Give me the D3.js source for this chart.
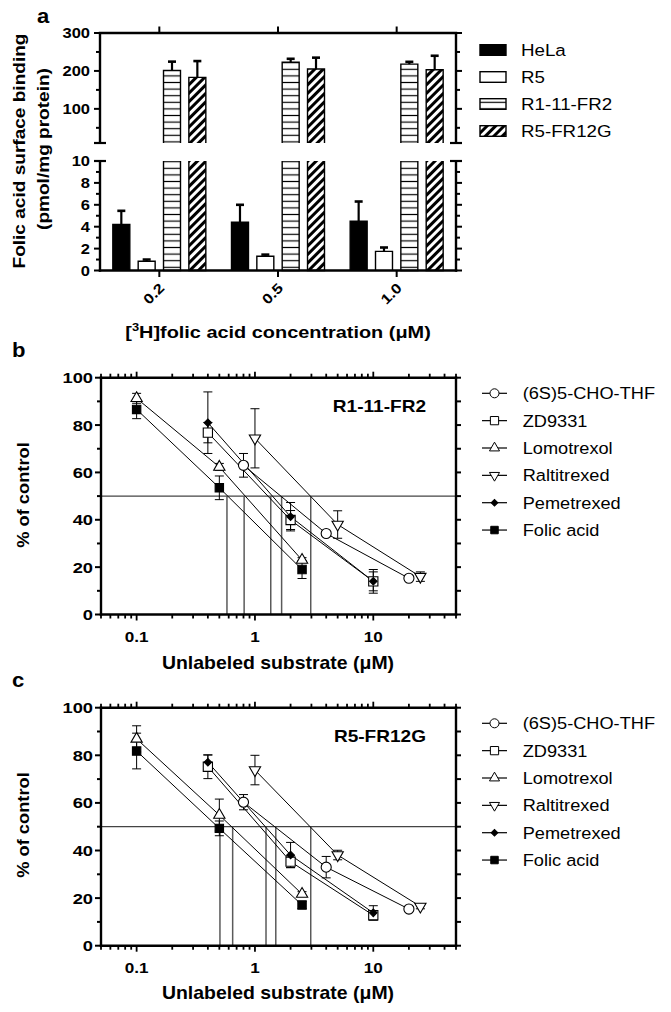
<!DOCTYPE html>
<html><head><meta charset="utf-8">
<script src="https://cdn.jsdelivr.net/npm/d3@7"></script>
<style>body{margin:0;background:#fff}</style>
</head><body>
<script>
// ---------- Panel a data ----------
const concCats = ["0.2", "0.5", "1.0"];
const cellLines = ["HeLa", "R5", "R1-11-FR2", "R5-FR12G"];
const helaMean = [4.2, 4.4, 4.5];
const helaErr = [1.25, 1.6, 1.8];
const r5Mean = [0.85, 1.3, 1.75];
const r5Err = [0.15, 0.15, 0.35];
const r111Mean = [201, 223, 218];
const r111Err = [23.5, 9, 6];
const r5fr12gMean = [183, 205, 203];
const r5fr12gErr = [43, 30, 37];
const aUpperTicks = [100, 200, 300];
const aUpperMinor = [50, 150, 250];
const aLowerTicks = [0, 2, 4, 6, 8, 10];
const aLowerMinor = [1, 3, 5, 7, 9];

// ---------- Panels b, c data ----------
const drugs = ["(6S)5-CHO-THF", "ZD9331", "Lomotrexol", "Raltitrexed", "Pemetrexed", "Folic acid"];
const concCHO = [0.8, 4, 20];
const concZD = [0.4, 2, 10];
const concLomo = [0.1, 0.5, 2.5];
const concRal = [1, 5, 25];
const concPem = [0.4, 2, 10];
const concFA = [0.1, 0.5, 2.5];

const bCHO = [63, 34.2, 15.3], bCHOErr = [5, 0.8, 1];
const bZD = [76.8, 39.9, 14], bZDErr = [4.3, 4, 5];
const bLomo = [91.3, 62.3, 23], bLomoErr = [2.1, 1.5, 1];
const bRal = [74.4, 38, 16], bRalErr = [12.5, 5.8, 2];
const bPem = [81, 41.3, 14], bPemErr = [13, 6, 4];
const bFA = [86.6, 53.5, 19], bFAErr = [3.9, 5, 3.8];
const bIC50 = [0.58, 0.81, 1.36, 1.68, 2.96];

const cCHO = [60.3, 33, 15.4], cCHOErr = [3.2, 4.5, 1];
const cZD = [75.2, 35.3, 12.8], cZDErr = [5, 2.5, 2];
const cLomo = [86.9, 54.9, 21.7], cLomoErr = [5.5, 6.7, 1];
const cRal = [73.8, 38.1, 16.5], cRalErr = [6.2, 2, 1];
const cPem = [77.1, 38.1, 13.8], cPemErr = [3, 5.3, 3];
const cFA = [81.8, 49.3, 17.1], cFAErr = [7.5, 3.1, 1.5];
const cIC50 = [0.506, 0.648, 1.24, 1.50, 2.96];

const pctTicks = [0, 20, 40, 60, 80, 100];
const pctMinor = [10, 30, 50, 70, 90];
const logLabels = [0.1, 1, 10];

// ---------- Setup ----------
const W = 671, H = 1012;
const FONT = "'Liberation Sans', Arial, Helvetica, sans-serif";
const svg = d3.select("body").append("svg").attr("width", W).attr("height", H)
  .style("background", "#fff");

function label(g, x, y, s, o = {}) {
  return g.append("text")
    .attr("transform", `translate(${x},${y}) rotate(${o.rot || 0}) scale(${o.sx || 1.15},1)`)
    .attr("font-family", FONT).attr("font-size", o.size || 15)
    .attr("font-weight", o.bold === false ? "normal" : "bold")
    .attr("text-anchor", o.anchor || "start").attr("fill", "#000").text(s);
}
function ln(g, x1, y1, x2, y2, w = 1, c = "#000") {
  return g.append("line").attr("x1", x1).attr("y1", y1).attr("x2", x2).attr("y2", y2)
    .attr("stroke", c).attr("stroke-width", w);
}

const defs = svg.append("defs");
const ph = defs.append("pattern").attr("id", "hlines").attr("patternUnits", "userSpaceOnUse")
  .attr("width", 8).attr("height", 6.6);
ph.append("rect").attr("width", 8).attr("height", 6.6).attr("fill", "#fff");
ph.append("line").attr("x1", 0).attr("x2", 8).attr("y1", 3.3).attr("y2", 3.3).attr("stroke", "#000").attr("stroke-width", 1.2);
const pd = defs.append("pattern").attr("id", "diag").attr("patternUnits", "userSpaceOnUse")
  .attr("width", 6).attr("height", 6).attr("patternTransform", "rotate(45)");
pd.append("rect").attr("width", 6).attr("height", 6).attr("fill", "#fff");
pd.append("rect").attr("width", 3).attr("height", 6).attr("fill", "#000");

// ---------- Panel a ----------
const gA = svg.append("g");
const xA = d3.scaleBand().domain(concCats).range([100, 456]);
const xSub = d3.scaleBand().domain(cellLines).range([-46.5, 46.5]).paddingInner(0.33);
const yLow = d3.scaleLinear().domain([0, 10]).range([270.5, 161]);
const yUp = d3.scaleLinear().domain([10, 300]).range([143, 33]);
const fills = { "HeLa": "#000", "R5": "#fff", "R1-11-FR2": "url(#hlines)", "R5-FR12G": "url(#diag)" };
const means = [helaMean, r5Mean, r111Mean, r5fr12gMean];
const errs = [helaErr, r5Err, r111Err, r5fr12gErr];

cellLines.forEach((name, si) => {
  concCats.forEach((c, ci) => {
    const v = means[si][ci], e = errs[si][ci];
    const x0 = xA(c) + xA.bandwidth() / 2 + xSub(name), w = xSub.bandwidth();
    const cut = v > 10;
    const vt = Math.min(v, 10);
    gA.append("rect").attr("x", x0).attr("y", yLow(vt)).attr("width", w)
      .attr("height", yLow(0) - yLow(vt)).attr("fill", fills[name]);
    gA.append("path").attr("fill", "none").attr("stroke", "#000").attr("stroke-width", 1.4)
      .attr("d", cut ? `M${x0},${yLow(10)}V${yLow(0)}H${x0 + w}V${yLow(10)}`
                     : `M${x0},${yLow(0)}V${yLow(v)}H${x0 + w}V${yLow(0)}`);
    if (cut) {
      gA.append("rect").attr("x", x0).attr("y", yUp(v)).attr("width", w)
        .attr("height", yUp(10) - yUp(v)).attr("fill", fills[name]);
      gA.append("path").attr("fill", "none").attr("stroke", "#000").attr("stroke-width", 1.4)
        .attr("d", `M${x0},${yUp(10)}V${yUp(v)}H${x0 + w}V${yUp(10)}`);
    }
    const ys = cut ? yUp : yLow;
    const cx = x0 + w / 2;
    ln(gA, cx, ys(v), cx, ys(v + e), 2.2);
    ln(gA, cx - 4, ys(v + e), cx + 4, ys(v + e), 2.6);
  });
});

// axes panel a
const AW = 2.4;
ln(gA, 100, 33, 100, 143, AW); ln(gA, 100, 161, 100, 271.7, AW);
ln(gA, 456, 33, 456, 143, AW); ln(gA, 456, 161, 456, 271.7, AW);
ln(gA, 98.8, 33, 457.2, 33, AW); ln(gA, 98.8, 270.5, 457.2, 270.5, AW);
aUpperTicks.forEach(t => {
  ln(gA, 94, yUp(t), 100, yUp(t), 2); ln(gA, 456, yUp(t), 462, yUp(t), 2);
  label(gA, 90, yUp(t) + 5, String(t), { size: 14, anchor: "end", sx: 1.18 });
});
aUpperMinor.forEach(t => { ln(gA, 96, yUp(t), 100, yUp(t), 2); ln(gA, 456, yUp(t), 460, yUp(t), 2); });
aLowerTicks.forEach(t => {
  ln(gA, 94, yLow(t), 100, yLow(t), 2); ln(gA, 456, yLow(t), 462, yLow(t), 2);
  label(gA, 90, yLow(t) + 5, String(t), { size: 14, anchor: "end", sx: 1.18 });
});
aLowerMinor.forEach(t => { ln(gA, 96, yLow(t), 100, yLow(t), 2); ln(gA, 456, yLow(t), 460, yLow(t), 2); });
[143, 161].forEach(y => { ln(gA, 94, y, 106, y, 2.2); ln(gA, 450, y, 462, y, 2.2); });
concCats.forEach(c => {
  const cx = xA(c) + xA.bandwidth() / 2;
  ln(gA, cx, 33, cx, 26.5, 2); ln(gA, cx, 270.5, cx, 277, 2);
  label(gA, cx + 6, 289, c, { size: 14, anchor: "end", rot: -45, sx: 1.18 });
});
label(gA, 37, 23, "a", { size: 21, sx: 1.05 });
// y title
label(gA, 25, 151, "Folic acid surface binding", { size: 16.3, rot: -90, anchor: "middle", sx: 1.17 });
label(gA, 49, 149, "(pmol/mg protein)", { size: 16.3, rot: -90, anchor: "middle", sx: 1.17 });
// x title
const xt = label(gA, 278, 337.5, "", { size: 17, anchor: "middle", sx: 1.17 });
xt.append("tspan").text("[");
xt.append("tspan").attr("font-size", 11).attr("dy", -7).text("3");
xt.append("tspan").attr("dy", 7).text("H]folic acid concentration (\u03BCM)");
// legend a
cellLines.forEach((name, i) => {
  const cy = 50 + i * 27;
  gA.append("rect").attr("x", 480).attr("y", cy - 5.3).attr("width", 26).attr("height", 10.6)
    .attr("fill", fills[name]).attr("stroke", "#000").attr("stroke-width", 1.4);
  label(gA, 521, cy + 6, name, { size: 16.3, bold: false, sx: 1.15 });
});

// ---------- Panels b, c ----------
const xLog = d3.scaleLog().domain([0.05, 50]).range([101, 456]);
const markerStyles = [
  { type: d3.symbolCircle, size: 80, fill: "#fff", rot: 0 },
  { type: d3.symbolSquare, size: 85, fill: "#fff", rot: 0 },
  { type: d3.symbolTriangle, size: 55, fill: "#fff", rot: 0 },
  { type: d3.symbolTriangle, size: 55, fill: "#fff", rot: 180 },
  { type: d3.symbolSquare, size: 28, fill: "#000", rot: 45 },
  { type: d3.symbolSquare, size: 70, fill: "#000", rot: 0 },
];
const concs = [concCHO, concZD, concLomo, concRal, concPem, concFA];

function drawCurvePanel(y, vals, errArr, ic50, tag, letter, off) {
  const g = svg.append("g");
  const x0 = xLog.range()[0], x1 = xLog.range()[1];
  // 50% line and IC50 verticals
  ln(g, x0, y(50), x1, y(50), 1.2, "#444");
  ic50.forEach(v => ln(g, xLog(v), y(50), xLog(v), y(0), 1.5, "#5a5a5a"));
  const line = d3.line().x(d => xLog(d[0])).y(d => y(d[1]));
  drugs.forEach((dname, i) => {
    const pts = concs[i].map((c, j) => [c, vals[i][j], errArr[i][j]]);
    g.append("path").attr("d", line(pts)).attr("fill", "none").attr("stroke", "#000").attr("stroke-width", 1);
  });
  drugs.forEach((dname, i) => {
    concs[i].forEach((c, j) => {
      const v = vals[i][j], e = errArr[i][j], cx = xLog(c);
      ln(g, cx, y(v - e), cx, y(v + e), 1);
      ln(g, cx - 4.5, y(v + e), cx + 4.5, y(v + e), 1);
      ln(g, cx - 4.5, y(v - e), cx + 4.5, y(v - e), 1);
    });
  });
  drugs.forEach((dname, i) => {
    const ms = markerStyles[i];
    concs[i].forEach((c, j) => {
      g.append("path").attr("d", d3.symbol().type(ms.type).size(ms.size)())
        .attr("transform", `translate(${xLog(c)},${y(vals[i][j])}) rotate(${ms.rot})`)
        .attr("fill", ms.fill).attr("stroke", "#000").attr("stroke-width", 1.1);
    });
  });
  // axes
  const AW = 2.4;
  const yb = y(0), yt = y(100);
  ln(g, x0, yt - 1.2, x0, yb + 1.2, AW); ln(g, x1, yt - 1.2, x1, yb + 1.2, AW);
  ln(g, x0 - 1.2, yt, x1 + 1.2, yt, AW); ln(g, x0 - 1.2, yb, x1 + 1.2, yb, AW);
  pctTicks.forEach(t => {
    ln(g, x0 - 6, y(t), x0, y(t), 2); ln(g, x1, y(t), x1 + 5, y(t), 2);
    label(g, 93, y(t) + 5.5, String(t), { size: 15.5, anchor: "end", sx: 1.18 });
  });
  pctMinor.forEach(t => { ln(g, x0 - 4, y(t), x0, y(t), 2); ln(g, x1, y(t), x1 + 5, y(t), 2); });
  xLog.ticks().forEach(t => {
    const major = Math.abs(Math.log10(t) - Math.round(Math.log10(t))) < 1e-6;
    const L = major ? 6 : 4;
    ln(g, xLog(t), yb, xLog(t), yb + L, 1.8); ln(g, xLog(t), yt, xLog(t), yt - L, 1.8);
  });
  logLabels.forEach(t => label(g, xLog(t), yb + 27.2, String(t), { size: 14.5, anchor: "middle", sx: 1.18 }));
  label(g, 278, 669.3 + off, "Unlabeled substrate (\u03BCM)", { size: 18, anchor: "middle", sx: 1.08 });
  label(g, 29, 495 + off, "% of control", { size: 16.3, rot: -90, anchor: "middle", sx: 1.12 });
  label(g, 426, 411.7 + off, tag, { size: 16.3, anchor: "end", sx: 1.17 });
  label(g, 12, 357 + off, letter, { size: 21, sx: 1.05 });
  // legend
  drugs.forEach((dname, i) => {
    const cy = 393.3 + off + i * 27.35;
    ln(g, 482, cy, 507, cy, 1.2);
    const ms = markerStyles[i];
    g.append("path").attr("d", d3.symbol().type(ms.type).size(ms.size * 0.8)())
      .attr("transform", `translate(494.5,${cy}) rotate(${ms.rot})`)
      .attr("fill", ms.fill).attr("stroke", "#000").attr("stroke-width", 1);
    label(g, 522.7, cy + 6, dname, { size: 17, bold: false, sx: 1.07 });
  });
}

const yB = d3.scaleLinear().domain([0, 100]).range([614.5, 377.7]);
const yC = d3.scaleLinear().domain([0, 100]).range([945.7, 707.7]);
drawCurvePanel(yB, [bCHO, bZD, bLomo, bRal, bPem, bFA], [bCHOErr, bZDErr, bLomoErr, bRalErr, bPemErr, bFAErr], bIC50, "R1-11-FR2", "b", 0);
drawCurvePanel(yC, [cCHO, cZD, cLomo, cRal, cPem, cFA], [cCHOErr, cZDErr, cLomoErr, cRalErr, cPemErr, cFAErr], cIC50, "R5-FR12G", "c", 330);
</script>
</body></html>
